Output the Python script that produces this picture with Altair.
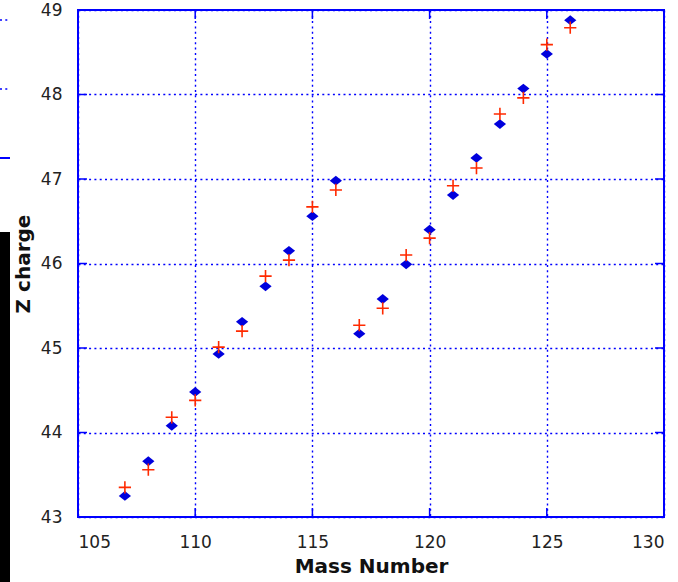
import altair as alt
import pandas as pd

mass = list(range(107, 127))
z_diamond = [43.25, 43.66, 44.08, 44.48, 44.93, 45.31, 45.73, 46.15, 46.56, 46.98,
             45.17, 45.58, 45.99, 46.40, 46.81, 47.25, 47.65, 48.07, 48.48, 48.88]
z_plus = [43.35, 43.56, 44.18, 44.38, 45.01, 45.20, 45.85, 46.04, 46.67, 46.87,
          45.27, 45.47, 46.10, 46.30, 46.92, 47.13, 47.77, 47.96, 48.59, 48.79]
x_ticks = [105, 110, 115, 120, 125, 130]
y_ticks = [43, 44, 45, 46, 47, 48, 49]

W, H = 586, 507
BLUE = "#0000ff"

df = pd.DataFrame({"mass": mass, "zd": z_diamond, "zp": z_plus})
xt = pd.DataFrame({"t": x_ticks})
yt = pd.DataFrame({"t": y_ticks})

xs = alt.Scale(domain=[105, 130], nice=False, zero=False)
ys = alt.Scale(domain=[43, 49], nice=False, zero=False)

lab = dict(labelFont="DejaVu Sans", labelFontSize=17, labelColor="#222222",
           titleFont="DejaVu Sans", titleFontSize=20, titleFontWeight="bold",
           titleColor="#111111", grid=True, gridColor=BLUE, gridDash=[2, 3.3],
           gridWidth=1.4, gridOpacity=1, domain=False, ticks=False, format="d")

xax = alt.Axis(values=x_ticks, title="Mass Number", labelPadding=17, titlePadding=6, **lab)
yax = alt.Axis(values=y_ticks, title="Z charge", labelPadding=16, titlePadding=7, **lab)

diamond = alt.Chart(df).mark_point(
    shape="M-1,0L0,-0.8L1,0L0,0.8Z", filled=True, color="#0000dd", size=150, opacity=1
).encode(x=alt.X("mass:Q", scale=xs, axis=xax), y=alt.Y("zd:Q", scale=ys, axis=yax))

plus = alt.Chart(df).mark_point(
    shape="M-1,0L1,0M0,-1L0,1", filled=False, color="#ff2a00", size=150,
    strokeWidth=1.6, opacity=1
).encode(x=alt.X("mass:Q", scale=xs), y=alt.Y("zp:Q", scale=ys))

TL = 9
ytl = alt.Chart(yt).mark_rule(color=BLUE, strokeWidth=1.5).encode(
    y=alt.Y("t:Q", scale=ys), x=alt.value(0), x2=alt.value(TL))
ytr = alt.Chart(yt).mark_rule(color=BLUE, strokeWidth=1.5).encode(
    y=alt.Y("t:Q", scale=ys), x=alt.value(W - TL), x2=alt.value(W))
xtb = alt.Chart(xt).mark_rule(color=BLUE, strokeWidth=1.5).encode(
    x=alt.X("t:Q", scale=xs), y=alt.value(H - TL), y2=alt.value(H))
xtt = alt.Chart(xt).mark_rule(color=BLUE, strokeWidth=1.5).encode(
    x=alt.X("t:Q", scale=xs), y=alt.value(0), y2=alt.value(TL))

# cropped remnants of a neighbouring figure at the far left edge
one = xt.head(1)
strip = alt.Chart(one).mark_rect(color="black", clip=False).encode(
    x=alt.value(-78), x2=alt.value(-68), y=alt.value(222), y2=alt.value(572))
frag1 = alt.Chart(one).mark_rule(color=BLUE, strokeWidth=1.4, strokeDash=[2, 3.3], clip=False).encode(
    x=alt.value(-78), x2=alt.value(-68), y=alt.value(10))
frag2 = alt.Chart(one).mark_rule(color=BLUE, strokeWidth=1.4, strokeDash=[2, 3.3], clip=False).encode(
    x=alt.value(-78), x2=alt.value(-68), y=alt.value(79))
frag3 = alt.Chart(one).mark_rule(color=BLUE, strokeWidth=2, clip=False).encode(
    x=alt.value(-78), x2=alt.value(-68), y=alt.value(148))

chart = alt.layer(strip, frag1, frag2, frag3, ytl, ytr, xtb, xtt, diamond, plus).properties(
    width=W, height=H,
    autosize=alt.AutoSizeParams(type="none"),
    padding={"left": 78, "top": 10, "right": 14, "bottom": 65},
    background="white",
).configure_view(stroke=BLUE, strokeWidth=2)

chart.save("out.html", embed_options={"renderer": "svg", "actions": False})
